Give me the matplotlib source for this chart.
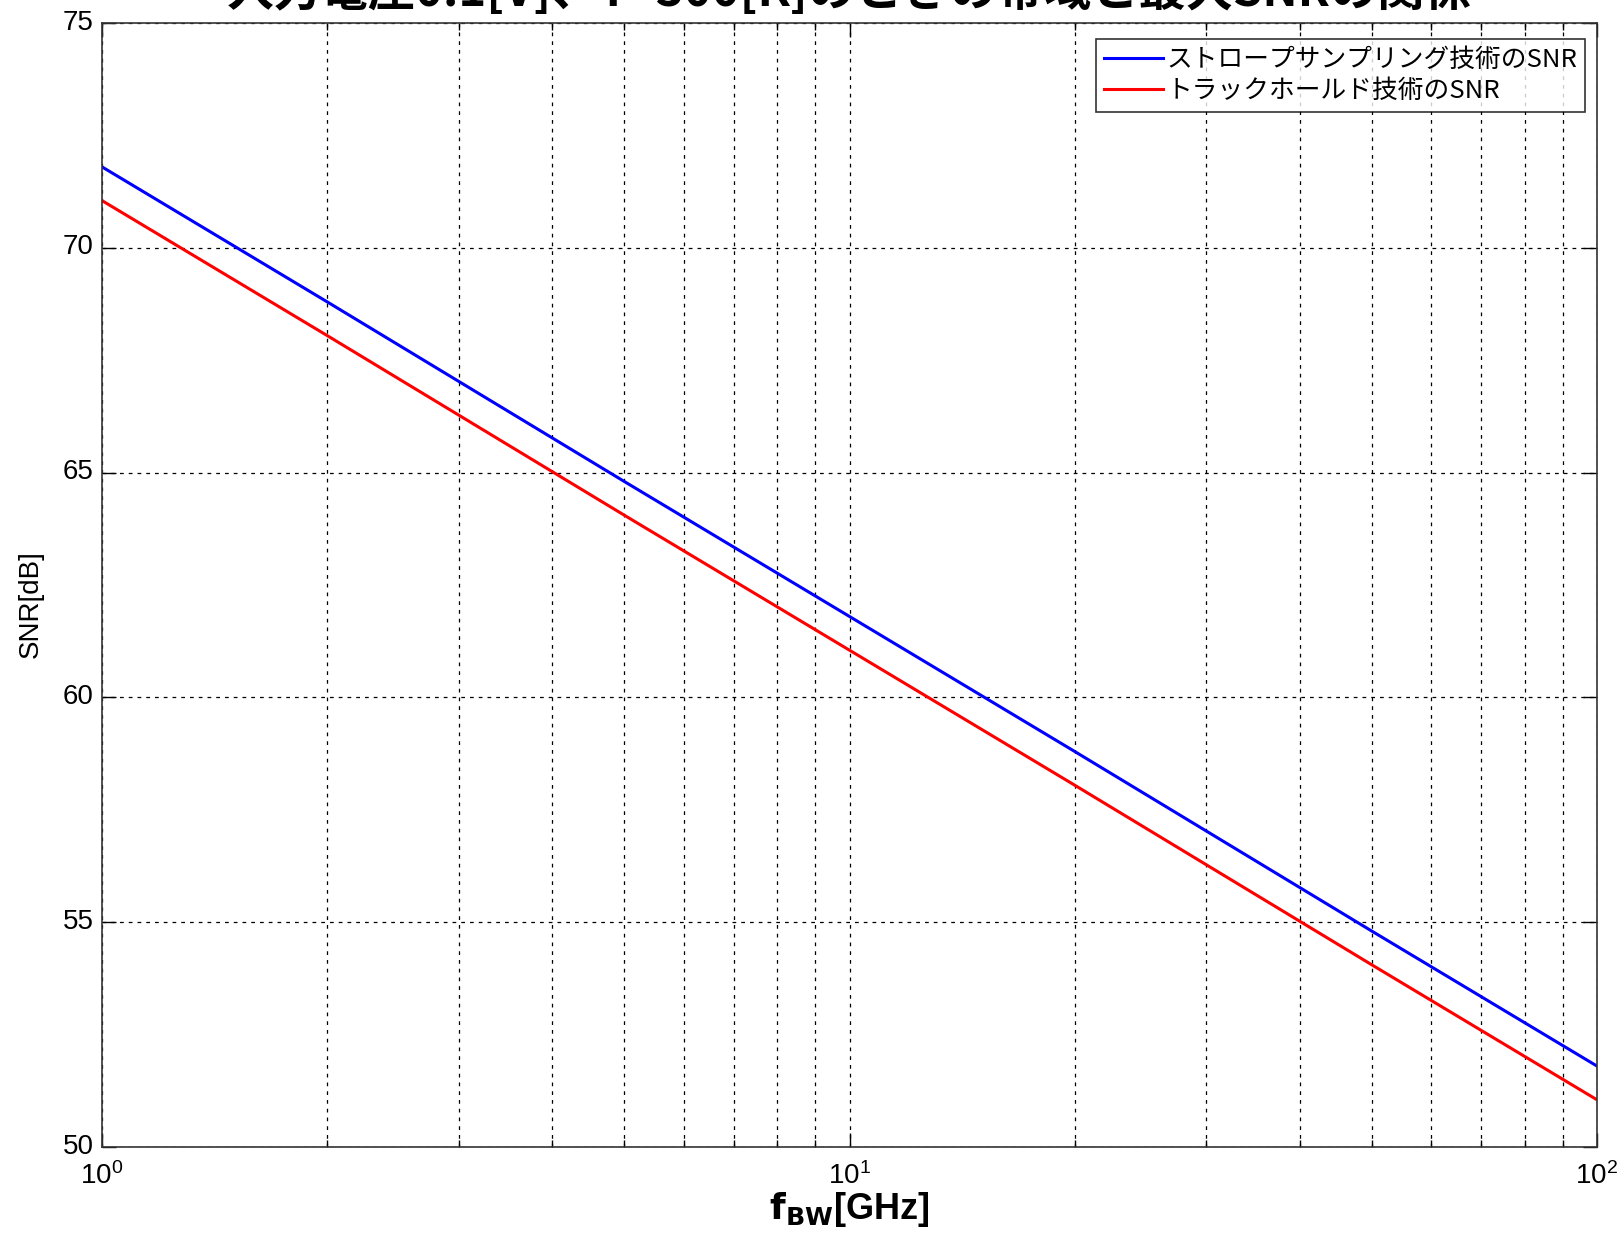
import matplotlib
matplotlib.use("Agg")
import matplotlib.pyplot as plt
from matplotlib.ticker import LogLocator, NullFormatter, FixedLocator
from matplotlib.transforms import ScaledTranslation

plt.rcParams['font.family'] = ['Liberation Sans', 'Noto Sans CJK JP', 'DejaVu Sans']

# Bandwidth [GHz] and maximum SNR [dB] for both techniques
freq_ghz = [1, 2, 5, 10, 20, 50, 100]
snr_strobe = [71.8, 68.8, 64.8, 61.8, 58.8, 54.8, 51.8]
snr_track_hold = [71.05, 68.05, 64.05, 61.05, 58.05, 54.05, 51.05]

labels = ["ストロープサンプリング技術のSNR", "トラックホールド技術のSNR"]
title = "入力電圧0.1[V]、T=300[K]のときの帯域と最大SNRの関係"
y_ticks = [50, 55, 60, 65, 70, 75]

W, H = 1621, 1235
fig = plt.figure(figsize=(W / 100, H / 100), dpi=100)
left, right, top, bottom = 102, 1597, 23, 1147
ax = fig.add_axes([left / W, 1 - bottom / H, (right - left) / W, (bottom - top) / H])

ax.plot(freq_ghz, snr_strobe, color='#0000ff', lw=2.2, label=labels[0])
ax.plot(freq_ghz, snr_track_hold, color='#ff0000', lw=2.2, label=labels[1])

ax.set_xscale('log')
ax.set_xlim(1, 100)
ax.set_ylim(50, 75)
ax.yaxis.set_major_locator(FixedLocator(y_ticks))
ax.xaxis.set_minor_locator(LogLocator(base=10, subs=range(2, 10)))
ax.xaxis.set_minor_formatter(NullFormatter())

ax.grid(True, which='major', color='black', linestyle=(0, (3, 4)), lw=0.9)
ax.grid(True, which='minor', axis='x', color='black', linestyle=(0, (3, 4)), lw=0.9)

ax.tick_params(which='both', direction='in', top=True, right=True, labelsize=20, width=1)
ax.tick_params(which='major', length=10)
ax.tick_params(which='minor', length=5)
ax.tick_params(axis='x', pad=11)
ax.tick_params(axis='y', pad=6)
# lift the y tick labels a few pixels above their tick
lift = ScaledTranslation(0, 3.5 / 100, fig.dpi_scale_trans)
for label in ax.get_yticklabels():
    label.set_transform(label.get_transform() + lift)
for s in ax.spines.values():
    s.set_linewidth(1.2)
    s.set_color('#333333')

ax.set_xlabel(r"$\mathbf{f_{BW}}$[GHz]", fontsize=26, fontweight='bold', labelpad=0)
ax.set_ylabel("SNR[dB]", fontsize=20)
ax.yaxis.set_label_coords(-0.039, 0.483)

leg = ax.legend(loc='upper right', bbox_to_anchor=(0.992, 0.9855), frameon=True,
                fancybox=False, edgecolor='black', handlelength=2.3, handletextpad=0.15,
                borderpad=0.3, labelspacing=0.2, borderaxespad=0,
                prop={'family': ['Noto Sans CJK JP', 'DejaVu Sans'], 'size': 18.5})
leg.get_frame().set_linewidth(1.2)

ax_center = (left + right) / 2 / W
fig.text(ax_center, 1 - 6 / H, title, ha='center', va='baseline', fontsize=34,
         fontweight='bold', family=['Noto Sans CJK JP', 'DejaVu Sans'])

fig.savefig("out.png", dpi=100, facecolor='white')
